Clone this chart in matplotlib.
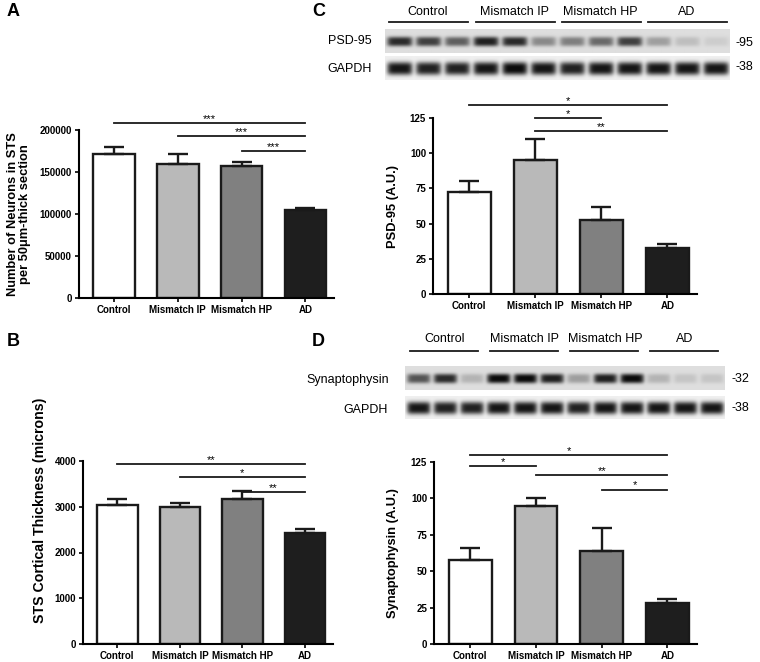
import matplotlib

matplotlib.use("Agg")
import matplotlib.pyplot as plt  # noqa: E402
import numpy as np  # noqa: E402

plt.rcParams["font.family"] = ["Liberation Sans", "DejaVu Sans"]

W, H = 760, 662

GROUPS = ["Control", "Mismatch IP", "Mismatch HP", "AD"]
BAR_COLORS = ["#ffffff", "#b9b9b9", "#808080", "#1e1e1e"]

# Panel A: neuron counts
neurons = [171000, 160000, 157500, 105000]
neurons_err = [9000, 12000, 4000, 2000]
sig_a = [(0, 3, 208000, "***"), (1, 3, 192500, "***"), (2, 3, 175000, "***")]

# Panel B: cortical thickness
thickness = [3040, 3000, 3160, 2430]
thickness_err = [120, 80, 180, 90]
sig_b = [(0, 3, 3935, "**"), (1, 3, 3650, "*"), (2, 3, 3320, "**")]

# Panel C: PSD-95
psd95 = [72.5, 95.5, 52.5, 33.0]
psd95_err = [7.5, 14.5, 9.0, 2.5]
sig_c = [(0, 3, 134, "*"), (1, 2, 124.8, "*"), (1, 3, 115.6, "**")]

# Panel D: synaptophysin
syn = [58.0, 95.0, 64.0, 28.0]
syn_err = [8.0, 5.5, 16.0, 3.0]
sig_d = [(0, 3, 129.8, "*"), (0, 1, 122, "*"), (1, 3, 116, "**"), (2, 3, 106, "*")]

# Western blot band strengths (0 = none, 1 = saturated), 12 lanes
psd95_bands = [0.85, 0.75, 0.6, 0.9, 0.85, 0.4, 0.45, 0.55, 0.75, 0.3, 0.15, 0.08]
gapdh_c_bands = [0.95, 0.9, 0.9, 0.95, 1.0, 0.95, 0.9, 0.95, 0.95, 0.95, 0.95, 0.95]
syn_bands = [0.65, 0.85, 0.2, 1.0, 1.0, 0.9, 0.3, 0.9, 1.0, 0.2, 0.12, 0.12]
gapdh_d_bands = [0.95, 0.9, 0.9, 0.95, 0.95, 0.95, 0.9, 0.95, 0.95, 0.95, 0.95, 0.95]


def rect(l, t, r, b):
    return [l / W, 1 - b / H, (r - l) / W, (b - t) / H]


def ftext(x, y, s, **kw):
    fig.text(x / W, 1 - y / H, s, **kw)


def bar_panel(ax, vals, errs, ymax, ystep, ylabel, sig, lab_fs, lab_xy):
    x = np.arange(len(GROUPS))
    ax.bar(x, vals, width=0.65, color=BAR_COLORS, edgecolor="#1a1a1a",
           linewidth=1.7, zorder=2)
    ax.errorbar(x, vals, yerr=[np.zeros(len(vals)), errs], fmt="none",
                ecolor="#1a1a1a", elinewidth=1.7, capsize=7, capthick=1.7,
                zorder=3)
    ax.set_xlim(-0.55, 3.45)
    ax.set_ylim(0, ymax)
    ax.set_yticks(np.arange(0, ymax + 1, ystep))
    ax.set_xticks(x)
    ax.set_xticklabels(GROUPS)
    for sp in ("top", "right"):
        ax.spines[sp].set_visible(False)
    for sp in ("left", "bottom"):
        ax.spines[sp].set_linewidth(1.5)
    ax.tick_params(direction="out", length=3, width=1.2, labelsize=7, pad=2)
    for lab in ax.get_xticklabels() + ax.get_yticklabels():
        lab.set_fontweight("bold")
    ax.set_ylabel(ylabel, fontsize=lab_fs, fontweight="bold",
                  linespacing=1.0)
    ax.yaxis.set_label_coords(*lab_xy)
    for i, j, h, s in sig:
        ax.plot([i, j], [h, h], color="#1a1a1a", lw=1.3, clip_on=False)
        ax.annotate(s, ((i + j) / 2, h), xytext=(0, -0.5),
                    textcoords="offset points", ha="center", va="bottom",
                    fontsize=8, annotation_clip=False)


def strip(levels, lane_px=30, height=24, bg=0.86, thick=0.2):
    xx = np.arange(len(levels) * lane_px)[None, :]
    yy = np.arange(height)[:, None]
    img = np.full((height, xx.size), bg)
    for i, lev in enumerate(levels):
        xc = (i + 0.5) * lane_px
        shape = (np.exp(-np.abs((xx - xc) / (0.44 * lane_px)) ** 6)
                 * np.exp(-np.abs((yy - height / 2) / (height * thick)) ** 3))
        img -= lev * (bg - 0.04) * shape
    return np.clip(img, 0, 1)


def blot_panel(ax, top_bands, bot_bands, yr, top_rng, bot_rng, line_y,
               lab_y, lo, hi):
    ax.imshow(strip(top_bands, bg=0.87, thick=0.2), cmap="gray", vmin=0,
              vmax=1, extent=(-0.5, 11.5, top_rng[1], top_rng[0]),
              aspect="auto", interpolation="bilinear")
    ax.imshow(strip(bot_bands, bg=0.94, thick=0.27), cmap="gray", vmin=0,
              vmax=1, extent=(-0.5, 11.5, bot_rng[1], bot_rng[0]),
              aspect="auto", interpolation="bilinear")
    ax.set_xlim(-0.5, 11.5)
    ax.set_ylim(yr[1], yr[0])
    ax.axis("off")
    for g, name in enumerate(GROUPS):
        ax.plot([3 * g + lo, 3 * g + hi], [line_y, line_y], color="#1a1a1a",
                lw=1.3, clip_on=False)
        ax.text(3 * g + 1, lab_y, name, ha="center", va="center",
                fontsize=9, clip_on=False)


fig = plt.figure(figsize=(W / 100, H / 100), dpi=100)

ax_a = fig.add_axes(rect(79, 130, 334, 298))
bar_panel(ax_a, neurons, neurons_err, 200000, 50000,
          "Number of Neurons in STS\nper 50\u03bcm-thick section", sig_a,
          9.3, (-0.19, 0.5))

ax_b = fig.add_axes(rect(83, 461, 333, 644))
bar_panel(ax_b, thickness, thickness_err, 4000, 1000,
          "STS Cortical Thickness (microns)", sig_b, 10.2, (-0.144, 0.73))

ax_c = fig.add_axes(rect(433, 118, 697, 294))
bar_panel(ax_c, psd95, psd95_err, 125, 25, "PSD-95 (A.U.)", sig_c,
          9.3, (-0.129, 0.5))

ax_d = fig.add_axes(rect(434, 462, 697, 644))
bar_panel(ax_d, syn, syn_err, 125, 25, "Synaptophysin (A.U.)", sig_d,
          9.3, (-0.133, 0.5))

blot_c = fig.add_axes(rect(385, 0, 730, 82))
blot_panel(blot_c, psd95_bands, gapdh_c_bands, (0, 82), (29, 53), (56, 80),
           22, 12, -0.35, 2.4)

blot_d = fig.add_axes(rect(405, 330, 725, 420))
blot_panel(blot_d, syn_bands, gapdh_d_bands, (330, 420), (366, 390),
           (396, 419), 351, 339, -0.3, 2.25)

ftext(372, 41, "PSD-95", ha="right", va="center", fontsize=9)
ftext(372, 69, "GAPDH", ha="right", va="center", fontsize=9)
ftext(736, 43, "-95", ha="left", va="center", fontsize=9)
ftext(736, 67, "-38", ha="left", va="center", fontsize=9)
ftext(389, 380, "Synaptophysin", ha="right", va="center", fontsize=9)
ftext(388, 410, "GAPDH", ha="right", va="center", fontsize=9)
ftext(732, 379, "-32", ha="left", va="center", fontsize=9)
ftext(732, 408, "-38", ha="left", va="center", fontsize=9)

for x, y, s in [(7, 12, "A"), (7, 342, "B"), (312, 12, "C"), (312, 342, "D")]:
    ftext(x, y, s, ha="left", va="center", fontsize=13, fontweight="bold")

fig.savefig("out.png", dpi=100)
